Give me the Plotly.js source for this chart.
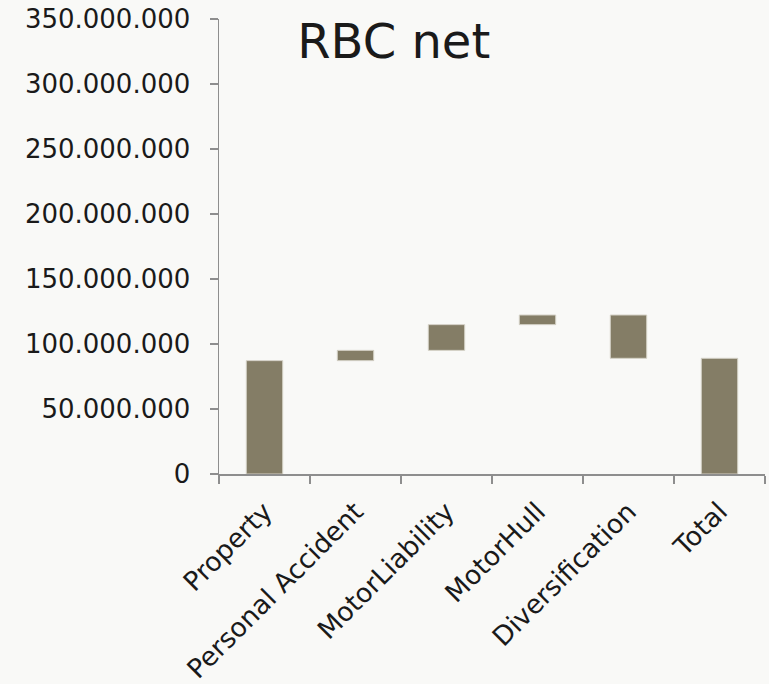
<!DOCTYPE html>
<html>
<head>
<meta charset="utf-8">
<script src="https://cdn.plot.ly/plotly-3.0.1.min.js"></script>
<style>html,body{margin:0;padding:0;background:#f9f9f7;}#chart{width:769px;height:684px;}</style>
</head>
<body>
<div id="chart"></div>
<script>
const categories = ["Property", "Personal Accident", "MotorLiability", "MotorHull", "Diversification", "Total"];
const values = [87200000, 7900000, 19800000, 7400000, -33300000, 0];
const measures = ["absolute", "relative", "relative", "relative", "relative", "total"];

const barColor = "#847d66";
const barEdge = "#d4d1c6";

const trace = {
  type: "waterfall",
  x: categories,
  y: values,
  measure: measures,
  width: 0.4,
  textinfo: "none",
  hoverinfo: "skip",
  connector: {visible: false},
  increasing: {marker: {color: barColor, line: {color: barEdge, width: 1}}},
  decreasing: {marker: {color: barColor, line: {color: barEdge, width: 1}}},
  totals: {marker: {color: barColor, line: {color: barEdge, width: 1}}}
};

const layout = {
  width: 769,
  height: 684,
  paper_bgcolor: "#f9f9f7",
  plot_bgcolor: "#f9f9f7",
  separators: ",.",
  showlegend: false,
  margin: {l: 219, r: 4, t: 19, b: 210},
  font: {family: "DejaVu Sans, Verdana, sans-serif", color: "#1a1a1a", size: 26},
  title: {
    text: "RBC net",
    font: {size: 48, color: "#1a1a1a", family: "DejaVu Sans, Verdana, sans-serif"},
    xref: "container", yref: "container",
    x: 0.512, xanchor: "center",
    y: 0.94, yanchor: "middle"
  },
  xaxis: {
    type: "category",
    showline: true, linecolor: "#8e8e8e", linewidth: 1.5,
    ticks: "outside", tickson: "boundaries", ticklen: 8, tickcolor: "#8e8e8e", tickwidth: 1.5,
    tickangle: -45,
    ticklabelstandoff: 10,
    showgrid: false, zeroline: false,
    tickfont: {size: 26.5, color: "#1a1a1a"}
  },
  yaxis: {
    range: [0, 350000000],
    dtick: 50000000, tick0: 0,
    tickformat: ",",
    showline: true, linecolor: "#8e8e8e", linewidth: 1.5,
    ticks: "outside", ticklen: 8, tickcolor: "#8e8e8e", tickwidth: 1.5,
    ticklabelstandoff: 14,
    showgrid: false, zeroline: false,
    tickfont: {size: 26, color: "#1a1a1a"}
  }
};

Plotly.newPlot("chart", [trace], layout, {displayModeBar: false, staticPlot: true});
</script>
</body>
</html>
